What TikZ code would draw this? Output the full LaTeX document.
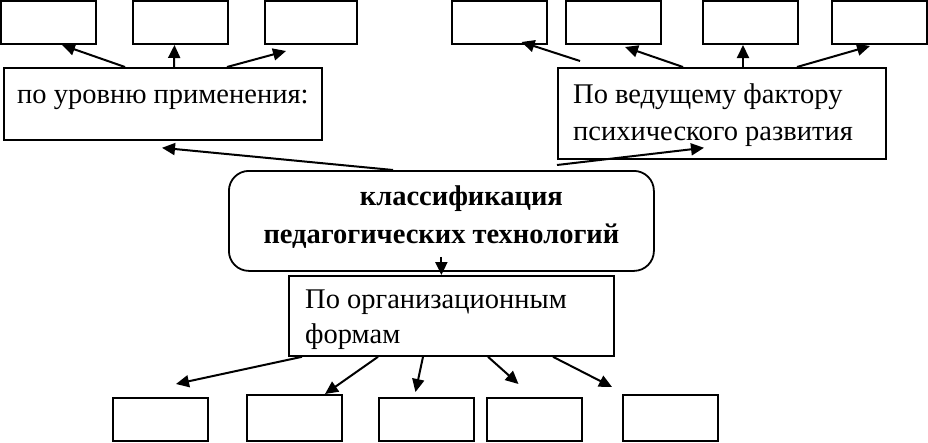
\documentclass[tikz,border=0pt]{standalone}
\usepackage{fontspec}
\setmainfont{Liberation Serif}
\usetikzlibrary{arrows.meta,positioning}

\begin{document}
\begin{tikzpicture}[x=1pt, y=-1pt,
    leaf/.style={rectangle, draw, line width=2pt, minimum width=95pt, minimum height=43pt, inner sep=0pt},
    crit/.style={rectangle, draw, line width=1.8pt, inner sep=0pt, anchor=north west},
    root/.style={rectangle, draw, line width=1.8pt, rounded corners=20pt, inner sep=0pt, anchor=north west},
    txt/.style={inner sep=0pt, font=\fontsize{28.5}{37}\selectfont},
    arr/.style={-{Triangle[length=13pt, width=12pt]}, line width=2pt}
]
\useasboundingbox (0,0) rectangle (928,442);

% Top left leaves
\node[leaf] (tl1) at (48,22.5) {};
\node[leaf] (tl2) at (180.5,22.5) {};
\node[leaf, minimum width=92pt] (tl3) at (311,22.5) {};

% Top right leaves
\node[leaf] (tr1) at (499.5,22.5) {};
\node[leaf] (tr2) at (613,22.5) {};
\node[leaf] (tr3) at (750,22.5) {};
\node[leaf] (tr4) at (879,22.5) {};

% Criteria boxes
\node[crit, minimum width=318pt, minimum height=72pt] (level) at (3,67) {};
\node[txt, anchor=base west] (levelt) at ([xshift=14pt, yshift=-36pt]level.north west) {по уровню применения:};

\node[crit, minimum width=328pt, minimum height=91pt] (fact) at (557,67) {};
\node[txt, anchor=base west, align=left] (factt) at ([xshift=16pt, yshift=-73pt]fact.north west) {По ведущему фактору\\психического развития};

% Root
\node[root, minimum width=425pt, minimum height=100pt] (cls) at (228,170) {};
\node[txt, anchor=base, align=center, font=\fontsize{28.5}{38}\selectfont\bfseries] (clst) at ([yshift=-73pt]cls.north) {\hspace*{40pt}классификация\\педагогических технологий};

\node[crit, minimum width=325pt, minimum height=80pt] (org) at (288,275) {};
\node[txt, anchor=base west, align=left, font=\fontsize{28.5}{35}\selectfont] (orgt) at ([xshift=17pt, yshift=-68pt]org.north west) {По организационным\\формам};

% Bottom leaves
\node[leaf] (bl1) at (160,419.5) {};
\node[leaf, minimum height=46pt] (bl2) at (294,418) {};
\node[leaf] (bl3) at (426.5,419.5) {};
\node[leaf] (bl4) at (534.5,419.5) {};
\node[leaf, minimum height=46pt] (bl5) at (670,418) {};

% Arrows
\draw[arr] ([xshift=122pt]level.north west) -- ([xshift=14pt]tl1.south);
\draw[arr] ([xshift=171pt]level.north west) -- ([xshift=-6pt]tl2.south);
\draw[arr] ([xshift=224pt]level.north west) -- ([xshift=-25pt, yshift=-6pt]tl3.south);

\draw[arr] ([xshift=23pt, yshift=6pt]fact.north west) -- ([xshift=22pt, yshift=3pt]tr1.south);
\draw[arr] ([xshift=126pt]fact.north west) -- ([xshift=12pt, yshift=-2pt]tr2.south);
\draw[arr] ([xshift=186pt]fact.north west) -- ([xshift=-7pt]tr3.south);
\draw[arr] ([xshift=240pt]fact.north west) -- ([xshift=-9pt, yshift=-1pt]tr4.south);

\draw[arr] ([xshift=165pt]cls.north west) -- ([xshift=159pt, yshift=-7pt]level.south west);
\draw[arr] ([xshift=329pt, yshift=5pt]cls.north west) -- ([xshift=147pt, yshift=12pt]fact.south west);
\draw[arr] ([yshift=15pt]cls.south) -- ([xshift=-10pt]org.north);

\draw[arr] ([xshift=14pt]org.south west) -- ([xshift=16pt, yshift=13pt]bl1.north);
\draw[arr] ([xshift=90pt]org.south west) -- ([xshift=31pt]bl2.north);
\draw[arr] ([xshift=135pt]org.south west) -- ([xshift=-11pt, yshift=5pt]bl3.north);
\draw[arr] ([xshift=200pt]org.south west) -- ([xshift=-16pt, yshift=13pt]bl4.north);
\draw[arr] ([xshift=265pt]org.south west) -- ([xshift=-58pt, yshift=7pt]bl5.north);

\end{tikzpicture}
\end{document}
